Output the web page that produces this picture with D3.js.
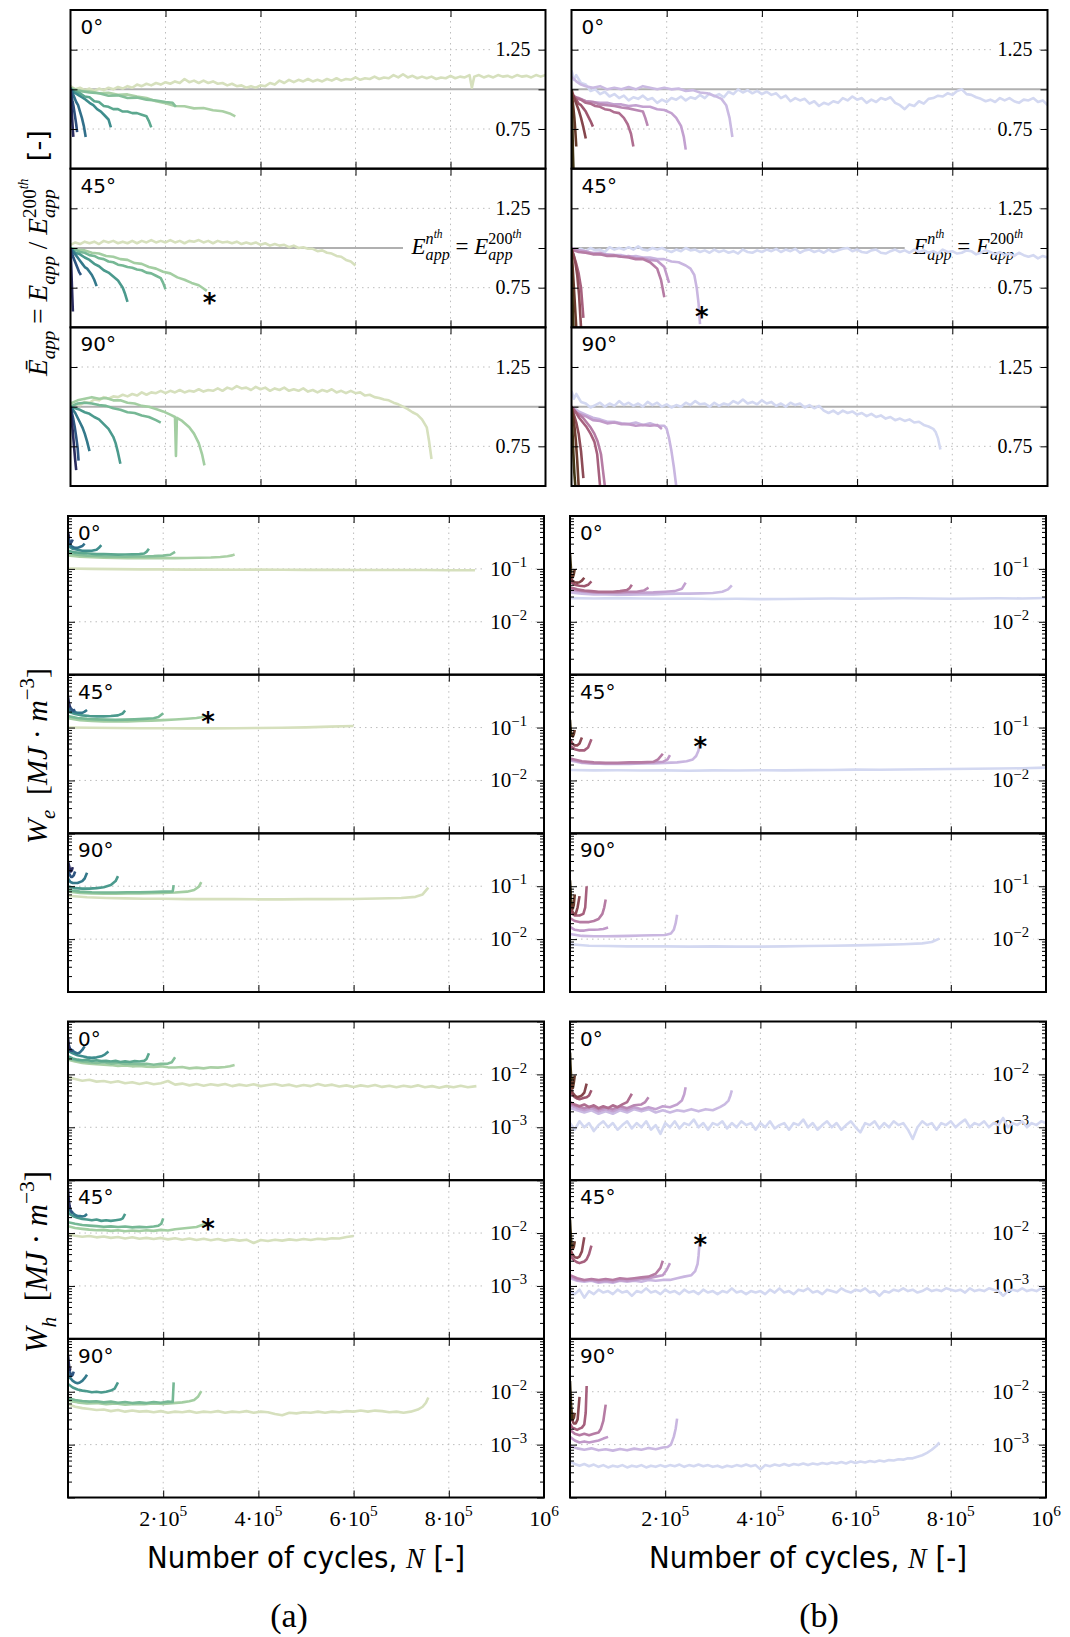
<!DOCTYPE html>
<html><head><meta charset="utf-8">
<script src="https://cdn.jsdelivr.net/npm/d3@7"></script>
<style>body{margin:0;background:#fff}text{white-space:pre}</style>
</head><body><svg id="c" width="1070" height="1637"></svg>
<script>
// ---------------- DATA (x in thousands of cycles) ----------------
const xTickValues = [200, 400, 600, 800, 1000];
const xTickLabels = [["2·10","5"],["4·10","5"],["6·10","5"],["8·10","5"],["10","6"]];
const angleLabels = ["0°", "45°", "90°"];
const columnLabels = ["(a)", "(b)"];
const eTicks = [0.75, 1.0, 1.25];
const eTickLabels = ["0.75", "", "1.25"];
const weLabelTicks = [1e-1, 1e-2];
const weLabelText = [["10","−1"],["10","−2"]];
const whLabelTicks = [1e-2, 1e-3];
const whLabelText = [["10","−2"],["10","−3"]];

// (a) normalised apparent modulus
const aE0 = [
 [[0,1.0],[1,0.95],[2,0.9],[3,0.84],[4,0.79],[5,0.74],[6,0.7]],
 [[0,1.0],[2,0.97],[4,0.93],[6,0.9],[8,0.86],[10,0.82],[12,0.78],[14,0.73]],
 [[0,1.01],[4,0.98],[8,0.95],[12,0.92],[16,0.9],[20,0.86],[24,0.82],[28,0.77],[32,0.7]],
 [[0,1.0],[8,0.98],[16,0.965],[24,0.95],[32,0.935],[40,0.915],[48,0.9],[56,0.875],[64,0.86],[72,0.835],[80,0.81],[85,0.76]],
 [[0,1.0],[10,0.985],[20,0.975],[30,0.955],[40,0.95],[50,0.925],[60,0.92],[70,0.895],[80,0.89],[90,0.875],[100,0.875],[110,0.86],[120,0.86],[130,0.85],[140,0.85],[150,0.84],[160,0.83],[165,0.8],[170,0.76]],
 [[0,1.0],[20,0.99],[40,0.98],[60,0.975],[80,0.96],[100,0.962],[120,0.945],[140,0.948],[160,0.935],[180,0.93],[200,0.92],[215,0.915],[222,0.89]],
 [[0,1.01],[20,0.99],[40,0.988],[60,0.975],[80,0.978],[100,0.965],[120,0.968],[140,0.955],[160,0.945],[180,0.925],[200,0.912],[220,0.895],[240,0.893],[260,0.88],[280,0.882],[300,0.868],[320,0.862],[335,0.848],[347,0.83]],
 [[0,1.02],[10,1.0],[20,1.01],[30,0.995],[40,1.005],[50,0.99],[60,1.005],[70,0.995],[80,1.01],[90,1.0],[100,1.015],[110,1.005],[120,1.02],[130,1.01],[140,1.03],[150,1.02],[160,1.035],[170,1.025],[180,1.04],[190,1.03],[200,1.045],[210,1.035],[220,1.05],[230,1.04],[240,1.065],[250,1.045],[260,1.055],[270,1.04],[280,1.055],[290,1.04],[300,1.05],[310,1.035],[320,1.04],[330,1.025],[340,1.035],[350,1.02],[360,1.025],[370,1.01],[380,1.02],[390,1.01],[400,1.025],[410,1.02],[420,1.04],[430,1.03],[440,1.055],[450,1.04],[460,1.06],[470,1.045],[480,1.06],[490,1.05],[500,1.065],[510,1.05],[520,1.06],[530,1.05],[540,1.065],[550,1.055],[560,1.07],[570,1.055],[580,1.065],[590,1.06],[600,1.075],[610,1.06],[620,1.07],[630,1.065],[640,1.08],[650,1.065],[660,1.075],[670,1.07],[680,1.09],[690,1.075],[700,1.095],[710,1.075],[720,1.085],[730,1.07],[740,1.08],[750,1.07],[760,1.08],[770,1.065],[780,1.075],[790,1.07],[800,1.085],[810,1.07],[820,1.08],[830,1.075],[840,1.09],[845,1.01],[850,1.08],[860,1.09],[870,1.075],[880,1.085],[890,1.075],[900,1.09],[910,1.08],[920,1.085],[930,1.075],[940,1.09],[950,1.08],[960,1.085],[970,1.075],[980,1.09],[990,1.08],[1000,1.09]]
];
const aE45 = [
 [[0,1.0],[1,0.93],[2,0.85],[3,0.76],[4,0.68],[5,0.6]],
 [[0,1.0],[3,0.97],[6,0.94],[10,0.91],[14,0.88],[18,0.85],[22,0.83]],
 [[0,1.0],[5,0.98],[10,0.96],[15,0.94],[20,0.92],[25,0.9],[30,0.88],[35,0.87],[40,0.85],[45,0.83],[50,0.8],[55,0.76]],
 [[0,1.0],[10,0.97],[20,0.96],[30,0.94],[40,0.925],[50,0.9],[60,0.885],[70,0.86],[80,0.845],[90,0.82],[100,0.795],[110,0.75],[115,0.71],[120,0.66]],
 [[0,1.0],[10,0.99],[20,0.975],[30,0.97],[40,0.955],[50,0.95],[60,0.935],[70,0.93],[80,0.915],[90,0.91],[100,0.895],[110,0.89],[120,0.88],[130,0.875],[140,0.865],[150,0.86],[160,0.845],[170,0.84],[180,0.825],[190,0.81],[195,0.78],[200,0.74]],
 [[0,1.0],[15,0.99],[30,0.985],[45,0.97],[60,0.965],[75,0.95],[90,0.945],[105,0.93],[120,0.925],[135,0.905],[150,0.9],[165,0.88],[180,0.87],[195,0.85],[210,0.84],[225,0.815],[240,0.8],[255,0.78],[270,0.765],[280,0.745],[287,0.73]],
 [[0,1.02],[10,1.035],[20,1.025],[30,1.04],[40,1.03],[50,1.04],[60,1.025],[70,1.045],[80,1.035],[90,1.045],[100,1.03],[110,1.04],[120,1.03],[130,1.045],[140,1.03],[150,1.045],[160,1.035],[170,1.05],[180,1.035],[190,1.045],[200,1.035],[210,1.05],[220,1.035],[230,1.045],[240,1.03],[250,1.045],[260,1.04],[270,1.05],[280,1.035],[290,1.045],[300,1.03],[310,1.045],[320,1.035],[330,1.04],[340,1.03],[350,1.04],[360,1.025],[370,1.035],[380,1.025],[390,1.035],[400,1.02],[410,1.03],[420,1.015],[430,1.025],[440,1.015],[450,1.02],[460,1.005],[470,1.015],[480,1.0],[490,1.005],[500,0.995],[510,0.995],[520,0.98],[530,0.985],[540,0.97],[550,0.965],[560,0.95],[570,0.945],[580,0.925],[590,0.915],[600,0.89]]
];
const aE90 = [
 [[0,1.0],[2,0.94],[4,0.87],[6,0.8],[8,0.73],[10,0.66],[12,0.6]],
 [[0,1.0],[3,0.96],[6,0.92],[9,0.87],[12,0.81],[15,0.74],[17,0.66]],
 [[0,1.0],[5,0.98],[10,0.96],[15,0.93],[20,0.9],[25,0.87],[30,0.83],[35,0.78],[40,0.72]],
 [[0,1.0],[10,0.99],[20,0.98],[30,0.965],[40,0.955],[50,0.935],[60,0.92],[70,0.89],[80,0.86],[90,0.81],[95,0.77],[100,0.71],[105,0.64]],
 [[0,1.0],[15,1.02],[30,1.025],[45,1.02],[60,1.01],[75,1.005],[90,0.99],[105,0.98],[120,0.965],[135,0.96],[150,0.945],[165,0.935],[180,0.915],[190,0.9]],
 [[0,1.02],[15,1.04],[30,1.05],[45,1.06],[60,1.05],[75,1.055],[90,1.04],[105,1.04],[120,1.025],[135,1.02],[150,1.005],[165,1.0],[180,0.985],[195,0.97],[210,0.95],[220,0.935],[222,0.69],[224,0.93],[235,0.91],[250,0.87],[260,0.83],[270,0.77],[277,0.7],[282,0.63]],
 [[0,1.0],[10,1.015],[20,1.01],[30,1.03],[40,1.025],[50,1.045],[60,1.04],[70,1.06],[80,1.05],[90,1.065],[100,1.06],[110,1.075],[120,1.065],[130,1.08],[140,1.07],[150,1.09],[160,1.075],[170,1.09],[180,1.085],[190,1.1],[200,1.085],[210,1.1],[220,1.09],[230,1.105],[240,1.09],[250,1.1],[260,1.095],[270,1.11],[280,1.095],[290,1.105],[300,1.1],[310,1.115],[320,1.1],[330,1.12],[340,1.11],[350,1.13],[360,1.115],[370,1.12],[380,1.105],[390,1.125],[400,1.11],[410,1.12],[420,1.1],[430,1.115],[440,1.105],[450,1.12],[460,1.1],[470,1.11],[480,1.1],[490,1.115],[500,1.095],[510,1.105],[520,1.09],[530,1.105],[540,1.095],[550,1.11],[560,1.09],[570,1.1],[580,1.085],[590,1.1],[600,1.085],[610,1.09],[620,1.07],[630,1.075],[640,1.06],[650,1.055],[660,1.045],[670,1.04],[680,1.025],[690,1.015],[700,1.0],[710,0.985],[720,0.965],[730,0.95],[740,0.92],[750,0.87],[755,0.78],[760,0.67]]
];
// (b)
const bE0 = [
 [[0,1.0],[1,0.9],[2,0.75],[3,0.6],[4,0.5]],
 [[0,0.98],[2,0.94],[4,0.88],[6,0.82],[8,0.74],[10,0.64]],
 [[0,1.0],[5,0.95],[10,0.91],[15,0.87],[20,0.82],[25,0.76],[30,0.69]],
 [[0,0.97],[5,0.95],[10,0.935],[15,0.91],[20,0.9],[25,0.88],[30,0.86],[35,0.83],[40,0.8],[45,0.765]],
 [[0,0.97],[10,0.945],[20,0.935],[30,0.915],[40,0.91],[50,0.895],[60,0.89],[70,0.875],[80,0.87],[90,0.855],[100,0.85],[110,0.82],[118,0.78],[125,0.72],[130,0.64]],
 [[0,0.96],[15,0.945],[30,0.925],[45,0.92],[60,0.905],[75,0.9],[90,0.895],[105,0.885],[120,0.88],[135,0.87],[150,0.86],[155,0.82],[160,0.77]],
 [[0,0.95],[15,0.94],[30,0.925],[45,0.92],[60,0.915],[75,0.915],[90,0.905],[105,0.905],[120,0.895],[135,0.9],[150,0.89],[165,0.89],[180,0.875],[195,0.87],[210,0.85],[220,0.82],[230,0.77],[236,0.7],[240,0.62]],
 [[0,1.08],[10,1.05],[20,1.03],[30,1.02],[45,1.01],[60,1.02],[75,1.0],[90,1.01],[105,1.0],[120,1.015],[135,1.0],[150,1.02],[165,1.01],[180,1.0],[195,1.01],[210,1.0],[225,1.005],[240,0.99],[255,0.995],[270,0.98],[285,0.975],[300,0.96],[315,0.94],[325,0.9],[332,0.82],[338,0.7]],
 [[0,1.12],[5,1.06],[10,1.09],[20,1.04],[30,1.03],[40,0.99],[50,1.0],[60,0.97],[70,0.985],[80,0.955],[90,0.97],[100,0.945],[110,0.96],[120,0.93],[130,0.95],[140,0.94],[150,0.96],[160,0.935],[170,0.945],[180,0.915],[190,0.935],[200,0.92],[210,0.945],[220,0.935],[230,0.955],[240,0.93],[250,0.95],[260,0.94],[270,0.965],[280,0.945],[290,0.975],[300,0.955],[310,0.97],[320,0.95],[330,0.985],[340,0.97],[350,1.0],[360,0.98],[370,0.995],[380,0.975],[390,0.99],[400,0.97],[410,0.985],[420,0.965],[430,0.975],[440,0.945],[450,0.96],[460,0.925],[470,0.945],[480,0.93],[490,0.94],[500,0.91],[510,0.925],[520,0.895],[530,0.915],[540,0.905],[550,0.925],[560,0.915],[570,0.945],[580,0.93],[590,0.955],[600,0.935],[610,0.945],[620,0.915],[630,0.935],[640,0.92],[650,0.945],[660,0.935],[670,0.95],[680,0.915],[690,0.9],[700,0.875],[710,0.905],[720,0.895],[730,0.925],[740,0.91],[750,0.94],[760,0.945],[770,0.96],[780,0.955],[790,0.975],[800,0.965],[810,0.99],[820,1.0],[830,0.97],[840,0.965],[850,0.95],[860,0.94],[870,0.925],[880,0.935],[890,0.92],[900,0.945],[910,0.93],[920,0.945],[930,0.925],[940,0.915],[950,0.935],[960,0.93],[970,0.945],[980,0.92],[990,0.93],[1000,0.9]]
];
const bE45 = [
 [[0,1.0],[1,0.85],[2,0.7],[3,0.58],[4,0.5]],
 [[0,1.0],[2,0.9],[4,0.8],[6,0.7],[8,0.6],[10,0.5]],
 [[0,1.0],[4,0.96],[8,0.91],[12,0.83],[16,0.7],[20,0.5]],
 [[0,0.99],[5,0.95],[10,0.9],[15,0.84],[20,0.75],[25,0.56]],
 [[0,0.99],[15,0.975],[30,0.97],[45,0.96],[60,0.96],[75,0.95],[90,0.952],[105,0.945],[120,0.94],[135,0.93],[150,0.93],[165,0.91],[180,0.87],[188,0.8],[195,0.69]],
 [[0,1.0],[15,0.985],[30,0.98],[45,0.965],[60,0.97],[75,0.955],[90,0.955],[105,0.945],[120,0.95],[135,0.935],[150,0.935],[165,0.925],[180,0.92],[195,0.88],[205,0.78]],
 [[0,0.99],[15,0.98],[30,0.97],[45,0.97],[60,0.96],[75,0.96],[90,0.955],[105,0.955],[120,0.945],[135,0.95],[150,0.94],[165,0.94],[180,0.93],[195,0.93],[210,0.915],[225,0.91],[240,0.89],[250,0.87],[258,0.83],[263,0.75],[267,0.65],[270,0.52]],
 [[0,1.0],[10,0.985],[20,0.995],[30,0.98],[40,1.0],[50,0.985],[60,0.99],[70,0.975],[80,1.005],[90,0.99],[100,1.0],[110,0.99],[120,1.005],[130,0.99],[140,1.01],[150,0.99],[160,0.985],[170,1.0],[180,0.99],[190,1.0],[200,0.985],[210,0.975],[220,0.99],[230,0.98],[240,1.0],[250,0.985],[260,0.99],[270,0.975],[280,0.985],[290,0.97],[300,0.99],[310,0.975],[320,0.985],[330,0.97],[340,0.98],[350,0.965],[360,0.99],[370,0.975],[380,0.97],[390,0.985],[400,0.975],[410,0.99],[420,0.98],[430,0.995],[440,0.975],[450,0.99],[460,0.98],[470,0.995],[480,0.97],[490,0.985],[500,0.99],[510,0.975],[520,0.985],[530,0.97],[540,0.99],[550,0.975],[560,0.985],[570,0.995],[580,1.0],[590,0.98],[600,0.99],[610,0.975],[620,0.97],[630,0.985],[640,0.99],[650,0.97],[660,0.965],[670,0.98],[680,0.99],[690,0.975],[700,0.985],[710,0.97],[720,0.99],[730,0.975],[740,0.985],[750,0.97],[760,0.98],[770,0.965],[780,0.99],[790,0.975],[800,0.98],[810,0.965],[820,0.97],[830,0.985],[840,0.98],[850,0.96],[860,0.97],[870,0.985],[880,0.975],[890,0.96],[900,0.975],[910,0.955],[920,0.965],[930,0.95],[940,0.97],[950,0.955],[960,0.945],[970,0.955],[980,0.935],[990,0.95],[1000,0.94]]
];
const bE90 = [
 [[0,1.0],[2,0.85],[4,0.7],[6,0.58],[8,0.5]],
 [[0,1.0],[3,0.95],[6,0.88],[9,0.79],[12,0.66],[15,0.5]],
 [[0,1.0],[5,0.95],[10,0.9],[15,0.83],[20,0.72],[25,0.55]],
 [[0,1.0],[8,0.97],[16,0.93],[24,0.9],[32,0.87],[40,0.83],[48,0.78],[54,0.7],[60,0.5]],
 [[0,0.99],[8,0.97],[16,0.95],[24,0.93],[32,0.9],[40,0.87],[48,0.83],[55,0.78],[62,0.7],[66,0.6],[70,0.5]],
 [[0,0.98],[15,0.955],[30,0.94],[45,0.915],[60,0.91],[75,0.895],[90,0.9],[105,0.89],[120,0.89],[135,0.88],[150,0.885],[165,0.88],[180,0.885],[190,0.86]],
 [[0,1.0],[15,0.97],[30,0.95],[45,0.93],[60,0.92],[75,0.905],[90,0.905],[105,0.895],[120,0.89],[135,0.9],[150,0.885],[165,0.895],[180,0.88],[195,0.88],[200,0.86],[205,0.8],[210,0.72],[215,0.62],[220,0.5]],
 [[0,1.1],[5,1.05],[10,1.08],[20,1.03],[30,1.02],[40,0.995],[50,1.01],[60,1.025],[70,1.0],[80,1.02],[90,1.005],[100,1.035],[110,1.01],[120,1.025],[130,1.005],[140,1.02],[150,1.0],[160,1.03],[170,1.01],[180,1.025],[190,1.0],[200,1.015],[210,0.995],[220,1.01],[230,1.0],[240,1.025],[250,1.01],[260,1.035],[270,1.015],[280,1.02],[290,1.0],[300,1.025],[310,1.005],[320,1.02],[330,1.01],[340,1.035],[350,1.02],[360,1.045],[370,1.02],[380,1.03],[390,1.015],[400,1.04],[410,1.02],[420,1.03],[430,1.005],[440,1.02],[450,1.0],[460,1.025],[470,1.01],[480,1.02],[490,0.995],[500,1.01],[510,0.99],[520,1.005],[530,0.975],[540,0.96],[550,0.975],[560,0.955],[570,0.975],[580,0.96],[590,0.97],[600,0.95],[610,0.96],[620,0.94],[630,0.955],[640,0.935],[650,0.945],[660,0.925],[670,0.935],[680,0.915],[690,0.925],[700,0.91],[710,0.92],[720,0.9],[730,0.905],[740,0.885],[750,0.875],[760,0.86],[765,0.84],[770,0.8],[775,0.73]]
];

// (a) elastic energy density We
const aWe0 = [
 [[0,0.5],[1,0.45],[2,0.4],[3,0.38]],
 [[0,0.42],[2,0.36],[4,0.33],[6,0.31],[8,0.33],[10,0.36]],
 [[0,0.32],[5,0.28],[10,0.26],[15,0.25],[20,0.25],[25,0.26],[30,0.27],[35,0.3]],
 [[0,0.27],[10,0.24],[20,0.23],[30,0.22],[40,0.22],[50,0.22],[60,0.23],[65,0.25],[70,0.28]],
 [[0,0.22],[15,0.205],[30,0.2],[45,0.195],[60,0.19],[75,0.19],[90,0.188],[105,0.186],[120,0.187],[135,0.188],[150,0.19],[160,0.195],[165,0.21],[170,0.24]],
 [[0,0.2],[20,0.185],[40,0.178],[60,0.175],[80,0.172],[100,0.172],[120,0.17],[140,0.171],[160,0.172],[180,0.174],[200,0.178],[215,0.185],[225,0.21]],
 [[0,0.18],[25,0.17],[50,0.166],[75,0.163],[100,0.161],[125,0.16],[150,0.159],[175,0.159],[200,0.16],[225,0.16],[250,0.161],[275,0.162],[300,0.164],[320,0.168],[335,0.174],[345,0.18],[350,0.187]],
 [[0,0.102],[50,0.1],[100,0.099],[150,0.098],[200,0.098],[250,0.097],[300,0.097],[350,0.0965],[400,0.097],[450,0.0965],[500,0.096],[550,0.096],[600,0.0955],[650,0.0955],[700,0.095],[750,0.095],[800,0.0945],[855,0.094]]
];
const aWe45 = [
 [[0,0.38],[1,0.33],[2,0.29],[3,0.26],[4,0.24]],
 [[0,0.3],[3,0.26],[6,0.23],[9,0.215],[12,0.21],[15,0.22]],
 [[0,0.24],[5,0.21],[10,0.2],[20,0.19],[30,0.19],[35,0.2],[40,0.215]],
 [[0,0.2],[15,0.18],[30,0.17],[45,0.165],[60,0.163],[75,0.163],[90,0.165],[105,0.17],[115,0.185],[120,0.21]],
 [[0,0.165],[20,0.152],[40,0.146],[60,0.143],[80,0.141],[100,0.14],[120,0.141],[140,0.143],[160,0.146],[180,0.15],[190,0.158],[200,0.186]],
 [[0,0.15],[25,0.138],[50,0.133],[75,0.13],[100,0.13],[125,0.131],[150,0.133],[175,0.135],[200,0.138],[225,0.142],[250,0.147],[270,0.152],[280,0.157],[288,0.165]],
 [[0,0.1],[50,0.099],[100,0.098],[150,0.097],[200,0.097],[250,0.0965],[300,0.0965],[350,0.097],[400,0.098],[450,0.099],[500,0.101],[550,0.104],[600,0.107]]
];
const aWe90 = [
 [[0,0.3],[2,0.25],[4,0.21],[6,0.19],[8,0.2],[10,0.23]],
 [[0,0.2],[3,0.17],[6,0.15],[9,0.15],[12,0.16],[15,0.19]],
 [[0,0.14],[5,0.12],[10,0.115],[20,0.115],[30,0.125],[35,0.14],[40,0.18]],
 [[0,0.1],[15,0.092],[30,0.09],[45,0.09],[60,0.092],[75,0.096],[90,0.105],[100,0.125],[105,0.155]],
 [[0,0.085],[25,0.079],[50,0.077],[75,0.076],[100,0.076],[125,0.077],[150,0.077],[175,0.078],[200,0.079],[220,0.08],[222,0.105]],
 [[0,0.08],[25,0.075],[50,0.073],[75,0.072],[100,0.072],[125,0.073],[150,0.073],[175,0.074],[200,0.075],[225,0.076],[250,0.079],[265,0.085],[275,0.098],[280,0.12]],
 [[0,0.066],[40,0.062],[80,0.06],[120,0.059],[160,0.058],[200,0.058],[250,0.057],[300,0.057],[350,0.057],[400,0.0565],[450,0.0565],[500,0.057],[550,0.057],[600,0.0575],[650,0.0585],[700,0.06],[730,0.063],[745,0.07],[757,0.094]]
];
const bWe0 = [
 [[0,0.2],[1,0.14],[2,0.1],[3,0.085]],
 [[0,0.1],[2,0.08],[4,0.07],[6,0.07],[8,0.08],[10,0.1]],
 [[0,0.07],[5,0.06],[10,0.056],[15,0.055],[20,0.056],[25,0.06],[30,0.068]],
 [[0,0.058],[10,0.05],[20,0.048],[30,0.047],[38,0.05],[45,0.058]],
 [[0,0.045],[15,0.041],[30,0.039],[45,0.038],[60,0.037],[75,0.037],[90,0.037],[105,0.038],[120,0.04],[125,0.043],[130,0.05]],
 [[0,0.042],[20,0.039],[40,0.037],[60,0.036],[80,0.036],[100,0.036],[120,0.037],[140,0.037],[155,0.039],[165,0.044]],
 [[0,0.04],[25,0.037],[50,0.036],[75,0.035],[100,0.035],[125,0.035],[150,0.0355],[175,0.036],[200,0.037],[220,0.038],[235,0.042],[243,0.055]],
 [[0,0.036],[25,0.034],[50,0.033],[75,0.033],[100,0.0325],[125,0.0325],[150,0.033],[175,0.033],[200,0.0335],[225,0.034],[250,0.034],[275,0.0345],[300,0.035],[320,0.037],[332,0.041],[340,0.049]],
 [[0,0.028],[50,0.0275],[100,0.028],[150,0.0275],[200,0.0272],[250,0.0275],[300,0.027],[350,0.0272],[400,0.0268],[450,0.027],[500,0.0272],[550,0.0275],[600,0.0272],[650,0.0275],[700,0.0278],[750,0.0275],[800,0.0272],[850,0.0275],[900,0.0278],[950,0.0276],[1000,0.0282]]
];
const bWe45 = [
 [[0,0.14],[1,0.1],[2,0.08],[3,0.07]],
 [[0,0.1],[2,0.08],[4,0.07],[6,0.068],[8,0.075],[10,0.09]],
 [[0,0.06],[5,0.05],[10,0.046],[15,0.046],[20,0.05],[25,0.065]],
 [[0,0.045],[10,0.039],[20,0.037],[30,0.037],[38,0.042],[45,0.06]],
 [[0,0.026],[25,0.023],[50,0.022],[75,0.0215],[100,0.0215],[125,0.022],[150,0.022],[175,0.0225],[185,0.025],[195,0.032]],
 [[0,0.025],[25,0.022],[50,0.021],[75,0.021],[100,0.021],[125,0.0212],[150,0.0215],[175,0.022],[195,0.0225],[205,0.025],[210,0.03]],
 [[0,0.024],[25,0.0215],[50,0.021],[75,0.0205],[100,0.0205],[125,0.0205],[150,0.021],[175,0.021],[200,0.0215],[225,0.022],[245,0.023],[258,0.025],[265,0.029],[270,0.037],[272,0.047]],
 [[0,0.0158],[50,0.0155],[100,0.0156],[150,0.0154],[200,0.0155],[250,0.0153],[300,0.0155],[350,0.0154],[400,0.0156],[450,0.0155],[500,0.0157],[550,0.0158],[600,0.016],[650,0.0159],[700,0.0161],[750,0.0163],[800,0.0165],[850,0.0166],[900,0.0168],[950,0.017],[1000,0.0175]]
];
const bWe90 = [
 [[0,0.13],[1,0.09],[2,0.06],[3,0.045]],
 [[0,0.08],[2,0.05],[4,0.04],[6,0.038],[8,0.045],[10,0.07]],
 [[0,0.05],[4,0.035],[8,0.03],[12,0.03],[16,0.04],[20,0.065]],
 [[0,0.035],[5,0.03],[10,0.028],[20,0.028],[28,0.03],[32,0.04],[35,0.1]],
 [[0,0.025],[10,0.022],[20,0.021],[30,0.021],[40,0.021],[50,0.022],[60,0.024],[68,0.03],[72,0.04],[75,0.056]],
 [[0,0.017],[10,0.015],[20,0.0145],[30,0.0145],[40,0.015],[50,0.015],[60,0.0152],[70,0.0155],[80,0.0165]],
 [[0,0.0125],[25,0.0115],[50,0.0113],[75,0.0113],[100,0.0114],[125,0.0115],[150,0.0117],[175,0.0118],[200,0.012],[212,0.0128],[218,0.015],[222,0.02],[225,0.029]],
 [[0,0.008],[40,0.0075],[80,0.0074],[120,0.0073],[160,0.0073],[200,0.0073],[250,0.0072],[300,0.0073],[350,0.0072],[400,0.0072],[450,0.0073],[500,0.0074],[550,0.0075],[600,0.0076],[650,0.0078],[700,0.008],[740,0.0083],[760,0.0088],[776,0.0102]]
];

// (a) hysteresis energy density Wh
const aWh0 = [
 [[0,0.05],[1,0.04],[2,0.033],[3,0.03],[4,0.032]],
 [[0,0.04],[2,0.035],[4,0.03],[6,0.028],[8,0.028],[10,0.03]],
 [[0,0.034],[5,0.03],[10,0.028],[15,0.026],[20,0.025],[25,0.026],[30,0.029],[35,0.034]],
 [[0,0.028],[10,0.025],[20,0.023],[30,0.022],[40,0.021],[50,0.0205],[60,0.021],[70,0.022],[78,0.024],[85,0.027]],
 [[0,0.022],[10,0.02],[20,0.019],[30,0.0185],[40,0.019],[50,0.018],[60,0.0185],[70,0.0178],[80,0.018],[90,0.0175],[100,0.018],[110,0.0172],[120,0.0176],[130,0.0172],[140,0.0178],[150,0.0175],[160,0.018],[165,0.0195],[170,0.025]],
 [[0,0.02],[15,0.0185],[30,0.0175],[45,0.017],[60,0.0165],[75,0.017],[90,0.016],[105,0.0165],[120,0.0158],[135,0.016],[150,0.0155],[165,0.0158],[180,0.0152],[195,0.0158],[210,0.016],[218,0.017],[225,0.021]],
 [[0,0.019],[15,0.0175],[30,0.0165],[45,0.016],[60,0.0155],[75,0.0152],[90,0.015],[105,0.0145],[120,0.0148],[135,0.0142],[150,0.0145],[165,0.014],[180,0.0138],[195,0.0142],[210,0.0136],[225,0.0135],[240,0.0138],[255,0.013],[270,0.0134],[285,0.013],[300,0.0136],[315,0.0134],[330,0.0138],[340,0.0142],[350,0.015]],
 [[0,0.0088],[15,0.0082],[30,0.0076],[45,0.0079],[60,0.0073],[75,0.0075],[90,0.007],[105,0.0074],[120,0.0068],[135,0.0071],[150,0.0066],[165,0.007],[180,0.0065],[195,0.0068],[210,0.0075],[225,0.0064],[240,0.0067],[255,0.0062],[270,0.0066],[285,0.0061],[300,0.0065],[315,0.0062],[330,0.0066],[345,0.006],[360,0.0064],[375,0.0061],[390,0.0065],[405,0.006],[420,0.0063],[435,0.0066],[450,0.0061],[465,0.0064],[480,0.0059],[495,0.0063],[510,0.006],[525,0.0066],[540,0.0061],[555,0.0064],[570,0.0059],[585,0.0062],[600,0.0058],[615,0.0062],[630,0.0059],[645,0.0063],[660,0.0058],[675,0.0061],[690,0.0057],[705,0.0061],[720,0.0058],[735,0.0062],[750,0.0057],[765,0.006],[780,0.0056],[795,0.006],[810,0.0057],[825,0.0061],[840,0.0057],[858,0.006]]
];
const aWh45 = [
 [[0,0.07],[1,0.05],[2,0.04],[3,0.034],[4,0.03]],
 [[0,0.045],[2,0.035],[4,0.03],[6,0.027],[8,0.025],[10,0.024]],
 [[0,0.03],[5,0.026],[10,0.024],[15,0.022],[20,0.021],[25,0.021],[30,0.0205],[35,0.021],[40,0.023]],
 [[0,0.024],[10,0.021],[20,0.0195],[30,0.0185],[40,0.018],[50,0.0175],[60,0.018],[70,0.017],[80,0.0175],[90,0.017],[100,0.0175],[110,0.018],[115,0.019],[120,0.023]],
 [[0,0.016],[15,0.015],[30,0.0142],[45,0.0138],[60,0.0135],[75,0.0132],[90,0.0134],[105,0.013],[120,0.0133],[135,0.0128],[150,0.0131],[165,0.0129],[180,0.0133],[190,0.0138],[196,0.015],[200,0.019]],
 [[0,0.0135],[15,0.0125],[30,0.012],[45,0.0116],[60,0.0113],[75,0.0115],[90,0.011],[105,0.0113],[120,0.0108],[135,0.0112],[150,0.0109],[165,0.0113],[180,0.011],[195,0.0115],[210,0.0112],[225,0.0118],[240,0.0122],[255,0.0126],[270,0.013],[280,0.014],[290,0.0155]],
 [[0,0.0095],[15,0.0089],[30,0.0085],[45,0.0088],[60,0.0083],[75,0.0086],[90,0.0081],[105,0.0084],[120,0.0079],[135,0.0083],[150,0.0078],[165,0.0081],[180,0.0077],[195,0.0081],[210,0.0076],[225,0.008],[240,0.0075],[255,0.0079],[270,0.0074],[285,0.0078],[300,0.0073],[315,0.0077],[330,0.0072],[345,0.0076],[360,0.0072],[375,0.0075],[390,0.0065],[405,0.0074],[420,0.0071],[435,0.0075],[450,0.0072],[465,0.0076],[480,0.0073],[495,0.0077],[510,0.0074],[525,0.0078],[540,0.0076],[555,0.008],[570,0.0079],[585,0.0084],[600,0.0088]]
];
const aWh90 = [
 [[0,0.05],[1,0.04],[2,0.032],[3,0.028],[4,0.026],[5,0.028]],
 [[0,0.035],[2,0.028],[4,0.024],[6,0.021],[8,0.02],[10,0.021],[12,0.024]],
 [[0,0.022],[5,0.018],[10,0.016],[15,0.015],[20,0.0145],[25,0.015],[30,0.016],[35,0.018],[40,0.021]],
 [[0,0.014],[10,0.012],[20,0.011],[30,0.0105],[40,0.0102],[50,0.0098],[60,0.01],[70,0.0097],[80,0.01],[90,0.0105],[98,0.0115],[105,0.015]],
 [[0,0.0075],[15,0.007],[30,0.0067],[45,0.0065],[60,0.0066],[75,0.0063],[90,0.0065],[105,0.0062],[120,0.0064],[135,0.0061],[150,0.0063],[165,0.0061],[180,0.0064],[195,0.0062],[210,0.0065],[220,0.0064],[222,0.015]],
 [[0,0.0068],[20,0.0063],[40,0.006],[60,0.0061],[80,0.0058],[100,0.006],[120,0.0057],[140,0.0059],[160,0.0058],[180,0.006],[200,0.0059],[220,0.0061],[240,0.0063],[255,0.0066],[265,0.007],[273,0.008],[280,0.0103]],
 [[0,0.0058],[15,0.0052],[30,0.0049],[45,0.0047],[60,0.0045],[75,0.0046],[90,0.0043],[105,0.0045],[120,0.0042],[135,0.0044],[150,0.0042],[165,0.0043],[180,0.0041],[195,0.0043],[210,0.004],[225,0.0042],[240,0.0041],[255,0.0043],[270,0.004],[285,0.0042],[300,0.0041],[315,0.0043],[330,0.004],[345,0.0042],[360,0.0041],[375,0.0043],[390,0.004],[405,0.0042],[420,0.0041],[435,0.0038],[450,0.0036],[465,0.004],[480,0.0039],[495,0.0041],[510,0.004],[525,0.0042],[540,0.004],[555,0.0042],[570,0.0041],[585,0.0043],[600,0.0042],[615,0.0044],[630,0.0042],[645,0.0044],[660,0.0043],[675,0.0041],[690,0.0042],[705,0.004],[720,0.0042],[735,0.0046],[745,0.0052],[752,0.0062],[757,0.0078]]
];
const bWh0 = [
 [[0,0.026],[1,0.015],[2,0.01],[3,0.008],[4,0.009]],
 [[0,0.012],[2,0.008],[4,0.006],[6,0.0055],[8,0.007],[10,0.0096]],
 [[0,0.006],[5,0.0045],[10,0.004],[15,0.0037],[20,0.0038],[25,0.004],[30,0.0045],[35,0.0067]],
 [[0,0.005],[5,0.0042],[10,0.0037],[15,0.0035],[20,0.0034],[25,0.0035],[30,0.0036],[35,0.0037],[40,0.004],[45,0.005]],
 [[0,0.003],[10,0.0027],[20,0.0025],[30,0.0027],[40,0.0024],[50,0.0026],[60,0.0023],[70,0.0025],[80,0.0023],[90,0.0026],[100,0.0024],[110,0.0027],[120,0.003],[125,0.0036],[130,0.0043]],
 [[0,0.0028],[15,0.0025],[30,0.0023],[45,0.0025],[60,0.0022],[75,0.0024],[90,0.0022],[105,0.0025],[120,0.0023],[135,0.0026],[150,0.0027],[158,0.003],[165,0.0037]],
 [[0,0.0026],[15,0.0023],[30,0.0021],[45,0.0023],[60,0.002],[75,0.0022],[90,0.002],[105,0.0023],[120,0.0021],[135,0.0024],[150,0.0022],[165,0.0024],[180,0.0022],[195,0.0025],[210,0.0024],[225,0.0027],[235,0.0032],[240,0.0042],[243,0.0057]],
 [[0,0.0023],[15,0.0021],[30,0.0019],[45,0.0021],[60,0.0018],[75,0.002],[90,0.0018],[105,0.0021],[120,0.0019],[135,0.0022],[150,0.002],[165,0.0022],[180,0.0019],[195,0.0021],[210,0.0019],[225,0.0021],[240,0.002],[255,0.0022],[270,0.002],[285,0.0022],[300,0.0021],[315,0.0024],[325,0.0027],[333,0.0032],[337,0.004],[340,0.005]],
 [[0,0.0012],[10,0.0009],[20,0.0013],[30,0.001],[40,0.0012],[50,0.00085],[60,0.0011],[70,0.0013],[80,0.001],[90,0.0012],[100,0.0009],[110,0.0011],[120,0.0013],[130,0.00095],[140,0.0012],[150,0.001],[160,0.0013],[170,0.0009],[180,0.0011],[190,0.00075],[200,0.0012],[210,0.001],[220,0.0013],[230,0.00095],[240,0.0012],[250,0.0011],[260,0.0014],[270,0.001],[280,0.0012],[290,0.0009],[300,0.0012],[310,0.0011],[320,0.0013],[330,0.00095],[340,0.0012],[350,0.001],[360,0.0013],[370,0.0011],[380,0.0012],[390,0.0009],[400,0.0012],[410,0.001],[420,0.0013],[430,0.00095],[440,0.0011],[450,0.0012],[460,0.0009],[470,0.0012],[480,0.0011],[490,0.0014],[500,0.001],[510,0.0012],[520,0.0009],[530,0.0011],[540,0.0013],[550,0.001],[560,0.0012],[570,0.0009],[580,0.0011],[590,0.0013],[600,0.001],[610,0.0008],[620,0.0012],[630,0.0011],[640,0.0013],[650,0.00095],[660,0.0012],[670,0.001],[680,0.0013],[690,0.0011],[700,0.0012],[710,0.0009],[720,0.0006],[730,0.001],[740,0.0013],[750,0.0011],[760,0.0012],[770,0.0009],[780,0.0012],[790,0.0011],[800,0.0013],[810,0.001],[820,0.0012],[830,0.0014],[840,0.001],[850,0.0012],[860,0.0011],[870,0.0013],[880,0.001],[890,0.0012],[900,0.0011],[910,0.0015],[920,0.001],[930,0.0012],[940,0.0011],[950,0.0013],[960,0.001],[970,0.0012],[980,0.0011],[990,0.0013],[1000,0.0012]]
];
const bWh45 = [
 [[0,0.018],[1,0.012],[2,0.008],[3,0.006],[4,0.0055]],
 [[0,0.01],[2,0.007],[4,0.0055],[6,0.005],[8,0.0055],[10,0.007]],
 [[0,0.005],[5,0.004],[10,0.0035],[15,0.0034],[20,0.0036],[25,0.0045],[30,0.0083]],
 [[0,0.004],[5,0.0033],[10,0.003],[15,0.0028],[20,0.0027],[25,0.0028],[30,0.0029],[35,0.0032],[40,0.004],[45,0.0058]],
 [[0,0.0016],[15,0.0014],[30,0.0013],[45,0.00135],[60,0.0013],[75,0.00135],[90,0.0013],[105,0.0014],[120,0.00135],[135,0.0014],[150,0.00145],[165,0.0015],[180,0.0017],[190,0.0022],[195,0.003]],
 [[0,0.0015],[15,0.0013],[30,0.00125],[45,0.0013],[60,0.0012],[75,0.00125],[90,0.0012],[105,0.0013],[120,0.00125],[135,0.0013],[150,0.00135],[165,0.0014],[180,0.0015],[195,0.0016],[203,0.002],[210,0.0027]],
 [[0,0.0014],[15,0.00125],[30,0.0012],[45,0.00125],[60,0.00115],[75,0.0012],[90,0.00115],[105,0.00125],[120,0.0012],[135,0.00125],[150,0.0012],[165,0.0013],[180,0.00125],[195,0.0013],[210,0.0013],[225,0.0014],[240,0.0015],[255,0.0016],[263,0.0019],[268,0.0026],[270,0.0037],[272,0.0063]],
 [[0,0.0008],[10,0.0007],[20,0.00085],[30,0.0006],[40,0.0008],[50,0.0007],[60,0.00085],[70,0.00075],[80,0.0008],[90,0.0007],[100,0.00085],[110,0.00075],[120,0.0008],[130,0.00065],[140,0.0008],[150,0.00075],[160,0.0009],[170,0.00075],[180,0.0008],[190,0.0007],[200,0.00085],[210,0.00075],[220,0.0008],[230,0.0007],[240,0.00085],[250,0.00075],[260,0.0008],[270,0.0007],[280,0.00085],[290,0.00075],[300,0.0008],[310,0.0007],[320,0.0008],[330,0.00075],[340,0.0009],[350,0.00075],[360,0.0008],[370,0.0007],[380,0.0008],[390,0.00075],[400,0.0008],[410,0.0007],[420,0.00085],[430,0.00075],[440,0.0009],[450,0.00075],[460,0.0008],[470,0.0007],[480,0.00085],[490,0.0008],[500,0.0009],[510,0.00075],[520,0.0008],[530,0.0007],[540,0.00085],[550,0.0008],[560,0.00075],[570,0.0009],[580,0.0008],[590,0.00075],[600,0.00085],[610,0.0008],[620,0.0009],[630,0.00075],[640,0.0008],[650,0.00065],[660,0.0008],[670,0.00075],[680,0.00085],[690,0.0008],[700,0.0009],[710,0.0008],[720,0.00085],[730,0.00075],[740,0.0008],[750,0.0009],[760,0.0008],[770,0.00085],[780,0.0008],[790,0.0009],[800,0.00085],[810,0.0008],[820,0.00085],[830,0.00075],[840,0.0009],[850,0.0008],[860,0.00085],[870,0.0008],[880,0.0009],[890,0.00085],[900,0.0008],[910,0.00065],[920,0.0008],[930,0.00085],[940,0.0008],[950,0.0009],[960,0.0008],[970,0.00085],[980,0.0008],[990,0.0009],[1000,0.00085]]
];
const bWh90 = [
 [[0,0.016],[1,0.01],[2,0.006],[3,0.004],[4,0.003]],
 [[0,0.008],[2,0.005],[4,0.0035],[6,0.003],[8,0.0032],[10,0.004]],
 [[0,0.004],[4,0.003],[8,0.0025],[12,0.0025],[16,0.003],[20,0.008]],
 [[0,0.0025],[5,0.0021],[10,0.002],[15,0.0019],[20,0.002],[25,0.0021],[30,0.0024],[33,0.004],[35,0.0128]],
 [[0,0.0019],[10,0.0016],[20,0.0015],[30,0.0016],[40,0.0015],[50,0.0016],[60,0.0017],[65,0.002],[70,0.0028],[75,0.0057]],
 [[0,0.0014],[10,0.0012],[20,0.0011],[30,0.00115],[40,0.0011],[50,0.00115],[60,0.0012],[70,0.0013],[80,0.0014]],
 [[0,0.00095],[15,0.00085],[30,0.0008],[45,0.00085],[60,0.00078],[75,0.00082],[90,0.00077],[105,0.00083],[120,0.00078],[135,0.00084],[150,0.0008],[165,0.00086],[180,0.00082],[195,0.00088],[205,0.0009],[212,0.001],[218,0.0014],[222,0.002],[225,0.0031]],
 [[0,0.00048],[10,0.00043],[20,0.0004],[30,0.00043],[40,0.00039],[50,0.00042],[60,0.00038],[70,0.00041],[80,0.00037],[90,0.0004],[100,0.00038],[110,0.00041],[120,0.00037],[130,0.0004],[140,0.00038],[150,0.00041],[160,0.00037],[170,0.0004],[180,0.00038],[190,0.00041],[200,0.00038],[210,0.00041],[220,0.00039],[230,0.00042],[240,0.00038],[250,0.00041],[260,0.00039],[270,0.00042],[280,0.00039],[290,0.00041],[300,0.00038],[310,0.0004],[320,0.00037],[330,0.0004],[340,0.00038],[350,0.00041],[360,0.00039],[370,0.00042],[380,0.00039],[390,0.00041],[400,0.00034],[410,0.00041],[420,0.00039],[430,0.00042],[440,0.0004],[450,0.00043],[460,0.0004],[470,0.00043],[480,0.00041],[490,0.00044],[500,0.00041],[510,0.00044],[520,0.00042],[530,0.00045],[540,0.00043],[550,0.00046],[560,0.00044],[570,0.00047],[580,0.00044],[590,0.00048],[600,0.00045],[610,0.00048],[620,0.00046],[630,0.00049],[640,0.00047],[650,0.0005],[660,0.00048],[670,0.00051],[680,0.0005],[690,0.00053],[700,0.00052],[710,0.00055],[720,0.00055],[730,0.00059],[740,0.00063],[750,0.0007],[760,0.0008],[770,0.00095],[776,0.0011]]
];

// failure markers (*) in the 45° panels: [N (k), value] for E, We, Wh
const starA = [[293, 0.69], [294, 0.166], [294, 0.0155]];
const starB = [[274, 0.6], [274, 0.056], [274, 0.0076]];

// ---------------- LAYOUT ----------------
const svg = d3.select("#c");
const panelH = 158.67;
const groups = [
  { key: "E",  top: 10,   cols: [[70.5, 545.5], [571.5, 1047.5]], data: [[aE0, aE45, aE90], [bE0, bE45, bE90]] },
  { key: "We", top: 516,  cols: [[68, 544], [570, 1046]],         data: [[aWe0, aWe45, aWe90], [bWe0, bWe45, bWe90]] },
  { key: "Wh", top: 1021.5, cols: [[68, 544], [570, 1046]],       data: [[aWh0, aWh45, aWh90], [bWh0, bWh45, bWh90]] }
];
const palettes = [
  ["#2a2c5e", "#2e5081", "#2f6f8b", "#3b8d8d", "#5aa88c", "#85c19a", "#a8d0a2", "#d6e0bd"],
  ["#3f3414", "#6b3a2a", "#8f4a58", "#a85f7c", "#b67ca4", "#c19bcc", "#c9b4e0", "#d3d8f1"]
];
const stars = [starA, starB];
const colLabelX = [289, 819];
const SERIF = "Liberation Serif", SANS = "DejaVu Sans";

function mathText(g, items, fs) {
  let x = 0;
  items.forEach(it => {
    const fam = it.sans ? SANS : SERIF;
    const t = g.append("text").attr("x", x).attr("y", 0).attr("font-family", fam)
      .attr("font-size", fs).attr("font-style", it.it ? "italic" : "normal").text(it.t);
    const w = t.node().getComputedTextLength();
    let ext = 0;
    if (it.sub) {
      const s = g.append("text").attr("x", x + w).attr("y", fs * 0.28).attr("font-family", SERIF)
        .attr("font-size", fs * 0.7).attr("font-style", "italic").text(it.sub);
      ext = Math.max(ext, s.node().getComputedTextLength());
    }
    if (it.sup) {
      const s = g.append("text").attr("x", x + w).attr("y", -fs * 0.42).attr("font-family", SERIF)
        .attr("font-size", fs * 0.7).attr("font-style", it.supIt ? "italic" : "normal").text(it.sup);
      let sw = s.node().getComputedTextLength();
      if (it.supsup) {
        const ss = g.append("text").attr("x", x + w + sw).attr("y", -fs * 0.68).attr("font-family", SERIF)
          .attr("font-size", fs * 0.5).attr("font-style", "italic").text(it.supsup);
        sw += ss.node().getComputedTextLength();
      }
      ext = Math.max(ext, sw);
    }
    x += w + ext;
  });
  return x;
}

groups.forEach((grp, gi) => {
  grp.cols.forEach((col, ci) => {
    const [x0, x1] = col;
    const x = d3.scaleLinear().domain([0, 1000]).range([x0, x1]);
    for (let pi = 0; pi < 3; pi++) {
      const y0 = grp.top + pi * panelH, y1 = y0 + panelH;
      let y;
      if (grp.key === "E") y = d3.scaleLinear().domain([0.5, 1.5]).range([y1, y0]);
      else if (grp.key === "We") y = d3.scaleLog().domain([1e-3, 1]).range([y1, y0]);
      else y = d3.scaleLog().domain([1e-4, 1e-1]).range([y1, y0]);
      const g = svg.append("g");
      const cid = `clip${gi}${ci}${pi}`;
      g.append("clipPath").attr("id", cid).append("rect").attr("x", x0).attr("y", y0).attr("width", x1 - x0).attr("height", panelH);

      // grid
      const grid = g.append("g").attr("stroke", "#bdbdbd").attr("stroke-width", 1).attr("stroke-dasharray", "1.5,4");
      xTickValues.slice(0, 4).forEach(v => grid.append("line").attr("x1", x(v)).attr("x2", x(v)).attr("y1", y0).attr("y2", y1));
      const hGrid = grp.key === "E" ? [0.75, 1.25] : (grp.key === "We" ? weLabelTicks : whLabelTicks);
      hGrid.forEach(v => grid.append("line").attr("x1", x0).attr("x2", x1).attr("y1", y(v)).attr("y2", y(v)));

      // reference line
      if (grp.key === "E") {
        const xe = pi === 1 ? 700 : 1000;
        g.append("line").attr("x1", x(0)).attr("x2", x(xe)).attr("y1", y(1.0)).attr("y2", y(1.0))
          .attr("stroke", "#b0b0b0").attr("stroke-width", 2);
        if (pi === 1) {
          const lg = g.append("g");
          mathText(lg, [
            { t: "E", it: true, sub: "app", sup: "n", supIt: true, supsup: "th" },
            { t: " = " },
            { t: "E", it: true, sub: "app", sup: "200", supsup: "th" }
          ], 23);
          lg.attr("transform", `translate(${x(718)},${y(1.0) + 6})`);
        }
      }

      // y tick labels (inside, right) with white background
      const labs = g.append("g");
      if (grp.key === "E") {
        eTicks.forEach((v, k) => {
          if (!eTickLabels[k]) return;
          const tx = labs.append("text").attr("x", x1 - 15).attr("y", y(v) + 6.5).attr("text-anchor", "end")
            .attr("font-family", SERIF).attr("font-size", 20).text(eTickLabels[k]);
          const bb = tx.node().getBBox();
          labs.insert("rect", "text").attr("x", bb.x - 4).attr("y", bb.y).attr("width", bb.width + 8).attr("height", bb.height).attr("fill", "#fff");
        });
      } else {
        const vals = grp.key === "We" ? weLabelTicks : whLabelTicks;
        const txts = grp.key === "We" ? weLabelText : whLabelText;
        vals.forEach((v, k) => {
          const lg = labs.append("g");
          const w = mathText(lg, [{ t: txts[k][0], sup: txts[k][1] }], 21);
          lg.attr("transform", `translate(${x1 - 17 - w},${y(v) + 7})`);
          const bb = lg.node().getBBox();
          labs.insert("rect", "g").attr("x", x1 - 17 - w - 6).attr("y", y(v) + 7 + bb.y).attr("width", w + 10).attr("height", bb.height).attr("fill", "#fff");
        });
      }

      // data lines: longest (lightest) first
      const series = grp.data[ci][pi];
      const n = series.length;
      const colr = d3.interpolateRgbBasis(palettes[ci]);
      const line = d3.line().x(d => x(d[0])).y(d => y(d[1]));
      const lg = g.append("g").attr("clip-path", `url(#${cid})`);
      for (let k = n - 1; k >= 0; k--) {
        lg.append("path").attr("d", line(series[k])).attr("fill", "none")
          .attr("stroke", colr(k / (n - 1))).attr("stroke-width", 2.6).attr("stroke-linejoin", "round");
      }

      // ticks via d3 axes
      const ax = g.append("g");
      const strip = s => s.call(a => a.select(".domain").remove());
      ax.append("g").attr("transform", `translate(0,${y0})`).call(d3.axisTop(x).tickValues(xTickValues.slice(0, 4)).tickSize(-7).tickFormat("")).call(strip);
      ax.append("g").attr("transform", `translate(0,${y1})`).call(d3.axisBottom(x).tickValues(xTickValues.slice(0, 4)).tickSize(-7).tickFormat("")).call(strip);
      let major, minor = [];
      if (grp.key === "E") major = eTicks;
      else {
        const [lo, hi] = y.domain();
        major = [];
        for (let e = Math.round(Math.log10(lo)); e <= Math.round(Math.log10(hi)); e++) {
          major.push(Math.pow(10, e));
          if (Math.pow(10, e) < hi) for (let m = 2; m <= 9; m++) minor.push(m * Math.pow(10, e));
        }
      }
      ax.append("g").attr("transform", `translate(${x0},0)`).call(d3.axisLeft(y).tickValues(major).tickSize(-7).tickFormat("")).call(strip);
      ax.append("g").attr("transform", `translate(${x1},0)`).call(d3.axisRight(y).tickValues(major).tickSize(-7).tickFormat("")).call(strip);
      if (minor.length) {
        ax.append("g").attr("transform", `translate(${x0},0)`).call(d3.axisLeft(y).tickValues(minor).tickSize(-4).tickFormat("")).call(strip);
        ax.append("g").attr("transform", `translate(${x1},0)`).call(d3.axisRight(y).tickValues(minor).tickSize(-4).tickFormat("")).call(strip);
      }
      ax.selectAll(".tick line").attr("stroke", "#000").attr("stroke-width", 1);

      // frame
      g.append("rect").attr("x", x0).attr("y", y0).attr("width", x1 - x0).attr("height", panelH)
        .attr("fill", "none").attr("stroke", "#000").attr("stroke-width", 2);

      // angle label
      g.append("text").attr("x", x0 + 10).attr("y", y0 + 24).attr("font-family", SANS).attr("font-size", 20).text(angleLabels[pi]);

      // failure star
      if (pi === 1) {
        const s = stars[ci][gi];
        g.append("text").attr("x", x(s[0])).attr("y", y(s[1]) + 15).attr("text-anchor", "middle")
          .attr("font-family", SANS).attr("font-weight", "bold").attr("font-size", 26).text("*");
      }

      // x tick labels on the last panel
      if (gi === 2 && pi === 2) {
        xTickValues.forEach((v, k) => {
          const tg = svg.append("g");
          const w = mathText(tg, [{ t: xTickLabels[k][0], sup: xTickLabels[k][1] }], 22);
          tg.attr("transform", `translate(${x(v) - w / 2},${y1 + 28})`);
        });
        const tt = svg.append("g");
        const w = mathText(tt, [{ t: "Number of cycles, ", sans: true }, { t: "N", it: true }, { t: " [-]", sans: true }], 30);
        const sx = 318 / w;
        tt.attr("transform", `translate(${(x0 + x1) / 2 - 159},${y1 + 70}) scale(${sx},1)`);
        svg.append("text").attr("x", colLabelX[ci]).attr("y", 1627).attr("text-anchor", "middle")
          .attr("font-family", SERIF).attr("font-size", 34).text(columnLabels[ci]);
      }
    }
  });
});

// y-axis titles
function yTitle(items, cx, cy, len, fs) {
  const g = svg.append("g");
  const inner = g.append("g");
  const w = mathText(inner, items, fs);
  const s = len / w;
  g.attr("transform", `translate(${cx},${cy}) rotate(-90) scale(${s}) translate(${-w / 2},0)`);
}
yTitle([
  { t: "Ē", it: true, sub: "app" }, { t: " = " }, { t: "E", it: true, sub: "app" }, { t: " / " },
  { t: "E", it: true, sub: "app", sup: "200", supsup: "th" }, { t: "  [-]", sans: true }
], 47, 253, 246, 26);
yTitle([
  { t: "W", it: true, sub: "e" }, { t: "  [" }, { t: "MJ", it: true }, { t: " · " }, { t: "m", it: true, sup: "−3" }, { t: "]" }
], 47, 756, 176, 26);
yTitle([
  { t: "W", it: true, sub: "h" }, { t: "  [" }, { t: "MJ", it: true }, { t: " · " }, { t: "m", it: true, sup: "−3" }, { t: "]" }
], 47, 1262, 182, 26);
</script></body></html>
